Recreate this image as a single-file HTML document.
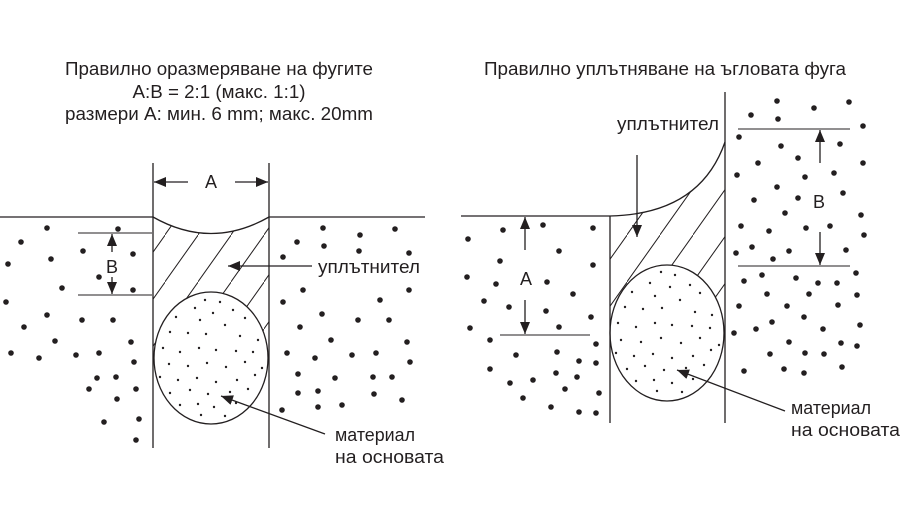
<!DOCTYPE html>
<html><head><meta charset="utf-8"><style>html,body{margin:0;padding:0;background:#fff}svg{display:block}text{font-family:"Liberation Sans","DejaVu Sans",sans-serif;fill:#231f20}</style></head>
<body>
<svg width="904" height="516" viewBox="0 0 904 516" xmlns="http://www.w3.org/2000/svg">
<defs>
<pattern id="h" patternUnits="userSpaceOnUse" width="33" height="47"><line x1="-3" y1="51" x2="36" y2="-4" stroke="#231f20" stroke-width="1"/></pattern>
<marker id="ar" viewBox="0 0 12 10" refX="12" refY="5" markerWidth="12" markerHeight="10" markerUnits="userSpaceOnUse" orient="auto"><path d="M0,0 L12,5 L0,10 z" fill="#231f20"/></marker>
</defs>
<g font-size="18" text-anchor="middle">
<text x="219" y="75" textLength="308" lengthAdjust="spacingAndGlyphs">Правилно оразмеряване на фугите</text>
<text x="219" y="98" textLength="173" lengthAdjust="spacingAndGlyphs">A:B = 2:1 (макс. 1:1)</text>
<text x="219" y="120" textLength="308" lengthAdjust="spacingAndGlyphs">размери A: мин. 6 mm; макс. 20mm</text>
<text x="665" y="75" textLength="362" lengthAdjust="spacingAndGlyphs">Правилно уплътняване на ъгловата фуга</text>
</g>
<g stroke="#231f20" fill="none" stroke-width="1.3">
<path d="M153,217 Q211,250 269,217 L269,358 L153,358 Z" fill="url(#h)" stroke="none"/>
<ellipse cx="211" cy="358" rx="57" ry="66" fill="#fff"/>
<path d="M153,217 Q211,250 269,217"/>
<line x1="0" y1="217" x2="153" y2="217"/><line x1="269" y1="217" x2="425" y2="217"/>
<line x1="153" y1="163" x2="153" y2="448"/><line x1="269" y1="163" x2="269" y2="448"/>
<line x1="188" y1="182" x2="154" y2="182" marker-end="url(#ar)"/>
<line x1="235" y1="182" x2="268" y2="182" marker-end="url(#ar)"/>
<line x1="78" y1="233" x2="152" y2="233" stroke-width="1"/><line x1="78" y1="295" x2="152" y2="295" stroke-width="1"/>
<line x1="112" y1="252" x2="112" y2="234" marker-end="url(#ar)"/>
<line x1="112" y1="277" x2="112" y2="294" marker-end="url(#ar)"/>
<line x1="312" y1="266" x2="228" y2="266" marker-end="url(#ar)"/>
<line x1="325" y1="434" x2="221" y2="396" marker-end="url(#ar)"/>
<path d="M610,216 Q700,214 725,142 L725,333 L610,333 Z" fill="url(#h)" stroke="none"/>
<ellipse cx="667" cy="333" rx="57" ry="68" fill="#fff"/>
<path d="M461,216 L610,216 Q700,214 725,142"/>
<line x1="610" y1="216" x2="610" y2="423"/><line x1="725" y1="92" x2="725" y2="423"/>
<line x1="637" y1="155" x2="637" y2="237" marker-end="url(#ar)"/>
<line x1="525" y1="250" x2="525" y2="217" marker-end="url(#ar)"/>
<line x1="525" y1="300" x2="525" y2="334" marker-end="url(#ar)"/>
<line x1="500" y1="335" x2="590" y2="335" stroke-width="1"/>
<line x1="738" y1="129" x2="850" y2="129" stroke-width="1"/><line x1="738" y1="266" x2="850" y2="266" stroke-width="1"/>
<line x1="820" y1="163" x2="820" y2="130" marker-end="url(#ar)"/>
<line x1="820" y1="232" x2="820" y2="265" marker-end="url(#ar)"/>
<line x1="785" y1="411" x2="677" y2="370" marker-end="url(#ar)"/>
</g>
<g font-size="18">
<text x="211" y="188" text-anchor="middle">A</text>
<text x="112" y="273" text-anchor="middle">B</text>
<text x="318" y="273" textLength="102" lengthAdjust="spacingAndGlyphs">уплътнител</text>
<text x="335" y="441" textLength="80" lengthAdjust="spacingAndGlyphs">материал</text>
<text x="335" y="463" textLength="109" lengthAdjust="spacingAndGlyphs">на основата</text>
<text x="526" y="285" text-anchor="middle">A</text>
<text x="819" y="208" text-anchor="middle">B</text>
<text x="617" y="130" textLength="102" lengthAdjust="spacingAndGlyphs">уплътнител</text>
<text x="791" y="414" textLength="80" lengthAdjust="spacingAndGlyphs">материал</text>
<text x="791" y="436" textLength="109" lengthAdjust="spacingAndGlyphs">на основата</text>
</g>
<g fill="#231f20">
<circle cx="47" cy="228" r="2.8"/><circle cx="118" cy="229" r="2.8"/><circle cx="21" cy="242" r="2.8"/><circle cx="83" cy="251" r="2.8"/><circle cx="133" cy="254" r="2.8"/><circle cx="51" cy="259" r="2.8"/><circle cx="8" cy="264" r="2.8"/><circle cx="99" cy="277" r="2.8"/><circle cx="62" cy="288" r="2.8"/><circle cx="133" cy="290" r="2.8"/><circle cx="6" cy="302" r="2.8"/><circle cx="47" cy="315" r="2.8"/><circle cx="82" cy="320" r="2.8"/><circle cx="113" cy="320" r="2.8"/><circle cx="24" cy="327" r="2.8"/><circle cx="55" cy="341" r="2.8"/><circle cx="131" cy="342" r="2.8"/><circle cx="11" cy="353" r="2.8"/><circle cx="39" cy="358" r="2.8"/><circle cx="76" cy="355" r="2.8"/><circle cx="99" cy="353" r="2.8"/><circle cx="134" cy="362" r="2.8"/><circle cx="97" cy="378" r="2.8"/><circle cx="116" cy="377" r="2.8"/><circle cx="89" cy="389" r="2.8"/><circle cx="136" cy="389" r="2.8"/><circle cx="117" cy="399" r="2.8"/><circle cx="104" cy="422" r="2.8"/><circle cx="139" cy="419" r="2.8"/><circle cx="136" cy="440" r="2.8"/>
<circle cx="323" cy="228" r="2.8"/><circle cx="360" cy="235" r="2.8"/><circle cx="395" cy="229" r="2.8"/><circle cx="297" cy="242" r="2.8"/><circle cx="324" cy="246" r="2.8"/><circle cx="359" cy="251" r="2.8"/><circle cx="409" cy="253" r="2.8"/><circle cx="283" cy="257" r="2.8"/><circle cx="303" cy="290" r="2.8"/><circle cx="409" cy="290" r="2.8"/><circle cx="380" cy="300" r="2.8"/><circle cx="283" cy="302" r="2.8"/><circle cx="322" cy="314" r="2.8"/><circle cx="358" cy="320" r="2.8"/><circle cx="389" cy="320" r="2.8"/><circle cx="300" cy="327" r="2.8"/><circle cx="331" cy="340" r="2.8"/><circle cx="407" cy="342" r="2.8"/><circle cx="287" cy="353" r="2.8"/><circle cx="315" cy="358" r="2.8"/><circle cx="352" cy="355" r="2.8"/><circle cx="376" cy="353" r="2.8"/><circle cx="410" cy="362" r="2.8"/><circle cx="298" cy="374" r="2.8"/><circle cx="335" cy="378" r="2.8"/><circle cx="373" cy="377" r="2.8"/><circle cx="392" cy="377" r="2.8"/><circle cx="298" cy="393" r="2.8"/><circle cx="318" cy="391" r="2.8"/><circle cx="374" cy="394" r="2.8"/><circle cx="402" cy="400" r="2.8"/><circle cx="282" cy="410" r="2.8"/><circle cx="318" cy="407" r="2.8"/><circle cx="342" cy="405" r="2.8"/>
<circle cx="777" cy="101" r="2.8"/><circle cx="814" cy="108" r="2.8"/><circle cx="849" cy="102" r="2.8"/><circle cx="751" cy="115" r="2.8"/><circle cx="778" cy="119" r="2.8"/><circle cx="863" cy="126" r="2.8"/><circle cx="739" cy="137" r="2.8"/><circle cx="781" cy="146" r="2.8"/><circle cx="840" cy="144" r="2.8"/><circle cx="758" cy="163" r="2.8"/><circle cx="798" cy="158" r="2.8"/><circle cx="863" cy="163" r="2.8"/><circle cx="737" cy="175" r="2.8"/><circle cx="805" cy="177" r="2.8"/><circle cx="834" cy="173" r="2.8"/><circle cx="777" cy="187" r="2.8"/><circle cx="754" cy="200" r="2.8"/><circle cx="798" cy="198" r="2.8"/><circle cx="843" cy="193" r="2.8"/><circle cx="785" cy="213" r="2.8"/><circle cx="861" cy="215" r="2.8"/><circle cx="741" cy="226" r="2.8"/><circle cx="769" cy="231" r="2.8"/><circle cx="806" cy="228" r="2.8"/><circle cx="830" cy="226" r="2.8"/><circle cx="864" cy="235" r="2.8"/><circle cx="752" cy="247" r="2.8"/><circle cx="789" cy="251" r="2.8"/><circle cx="736" cy="253" r="2.8"/><circle cx="773" cy="259" r="2.8"/><circle cx="846" cy="250" r="2.8"/>
<circle cx="744" cy="281" r="2.8"/><circle cx="762" cy="275" r="2.8"/><circle cx="796" cy="278" r="2.8"/><circle cx="818" cy="283" r="2.8"/><circle cx="837" cy="283" r="2.8"/><circle cx="856" cy="273" r="2.8"/><circle cx="767" cy="294" r="2.8"/><circle cx="809" cy="294" r="2.8"/><circle cx="857" cy="295" r="2.8"/><circle cx="739" cy="306" r="2.8"/><circle cx="787" cy="306" r="2.8"/><circle cx="838" cy="305" r="2.8"/><circle cx="772" cy="322" r="2.8"/><circle cx="804" cy="317" r="2.8"/><circle cx="860" cy="325" r="2.8"/><circle cx="734" cy="333" r="2.8"/><circle cx="756" cy="329" r="2.8"/><circle cx="823" cy="329" r="2.8"/><circle cx="789" cy="342" r="2.8"/><circle cx="841" cy="343" r="2.8"/><circle cx="857" cy="346" r="2.8"/><circle cx="770" cy="354" r="2.8"/><circle cx="805" cy="353" r="2.8"/><circle cx="824" cy="354" r="2.8"/><circle cx="744" cy="371" r="2.8"/><circle cx="784" cy="369" r="2.8"/><circle cx="804" cy="373" r="2.8"/><circle cx="842" cy="367" r="2.8"/>
<circle cx="468" cy="239" r="2.8"/><circle cx="503" cy="230" r="2.8"/><circle cx="543" cy="225" r="2.8"/><circle cx="593" cy="228" r="2.8"/><circle cx="559" cy="251" r="2.8"/><circle cx="500" cy="261" r="2.8"/><circle cx="593" cy="265" r="2.8"/><circle cx="467" cy="277" r="2.8"/><circle cx="496" cy="284" r="2.8"/><circle cx="547" cy="282" r="2.8"/><circle cx="573" cy="294" r="2.8"/><circle cx="484" cy="301" r="2.8"/><circle cx="509" cy="307" r="2.8"/><circle cx="546" cy="311" r="2.8"/><circle cx="591" cy="317" r="2.8"/><circle cx="470" cy="328" r="2.8"/><circle cx="559" cy="327" r="2.8"/><circle cx="490" cy="340" r="2.8"/><circle cx="596" cy="344" r="2.8"/><circle cx="516" cy="355" r="2.8"/><circle cx="557" cy="352" r="2.8"/><circle cx="579" cy="361" r="2.8"/><circle cx="596" cy="363" r="2.8"/><circle cx="490" cy="369" r="2.8"/><circle cx="556" cy="373" r="2.8"/><circle cx="577" cy="377" r="2.8"/><circle cx="510" cy="383" r="2.8"/><circle cx="533" cy="380" r="2.8"/><circle cx="565" cy="389" r="2.8"/><circle cx="599" cy="393" r="2.8"/><circle cx="523" cy="398" r="2.8"/><circle cx="551" cy="407" r="2.8"/><circle cx="579" cy="412" r="2.8"/><circle cx="596" cy="413" r="2.8"/>
</g>
<g fill="#231f20">
<circle cx="205" cy="300" r="1.2"/><circle cx="220" cy="302" r="1.2"/><circle cx="195" cy="308" r="1.2"/><circle cx="213" cy="313" r="1.2"/><circle cx="233" cy="310" r="1.2"/><circle cx="176" cy="317" r="1.2"/><circle cx="200" cy="320" r="1.2"/><circle cx="225" cy="325" r="1.2"/><circle cx="245" cy="318" r="1.2"/><circle cx="170" cy="332" r="1.2"/><circle cx="188" cy="333" r="1.2"/><circle cx="206" cy="334" r="1.2"/><circle cx="240" cy="336" r="1.2"/><circle cx="258" cy="340" r="1.2"/><circle cx="163" cy="348" r="1.2"/><circle cx="180" cy="352" r="1.2"/><circle cx="199" cy="348" r="1.2"/><circle cx="216" cy="350" r="1.2"/><circle cx="236" cy="351" r="1.2"/><circle cx="253" cy="352" r="1.2"/><circle cx="169" cy="364" r="1.2"/><circle cx="188" cy="366" r="1.2"/><circle cx="207" cy="363" r="1.2"/><circle cx="226" cy="367" r="1.2"/><circle cx="245" cy="362" r="1.2"/><circle cx="262" cy="368" r="1.2"/><circle cx="160" cy="377" r="1.2"/><circle cx="178" cy="380" r="1.2"/><circle cx="197" cy="378" r="1.2"/><circle cx="216" cy="382" r="1.2"/><circle cx="237" cy="380" r="1.2"/><circle cx="255" cy="375" r="1.2"/><circle cx="170" cy="393" r="1.2"/><circle cx="190" cy="390" r="1.2"/><circle cx="208" cy="394" r="1.2"/><circle cx="230" cy="392" r="1.2"/><circle cx="248" cy="389" r="1.2"/><circle cx="180" cy="405" r="1.2"/><circle cx="198" cy="404" r="1.2"/><circle cx="214" cy="407" r="1.2"/><circle cx="236" cy="403" r="1.2"/><circle cx="201" cy="415" r="1.2"/><circle cx="225" cy="416" r="1.2"/>
<circle cx="661" cy="272" r="1.2"/><circle cx="675" cy="275" r="1.2"/><circle cx="650" cy="283" r="1.2"/><circle cx="670" cy="287" r="1.2"/><circle cx="690" cy="285" r="1.2"/><circle cx="632" cy="292" r="1.2"/><circle cx="655" cy="296" r="1.2"/><circle cx="680" cy="300" r="1.2"/><circle cx="700" cy="293" r="1.2"/><circle cx="625" cy="307" r="1.2"/><circle cx="643" cy="309" r="1.2"/><circle cx="662" cy="308" r="1.2"/><circle cx="695" cy="312" r="1.2"/><circle cx="712" cy="315" r="1.2"/><circle cx="618" cy="323" r="1.2"/><circle cx="636" cy="327" r="1.2"/><circle cx="655" cy="323" r="1.2"/><circle cx="672" cy="325" r="1.2"/><circle cx="692" cy="326" r="1.2"/><circle cx="710" cy="328" r="1.2"/><circle cx="621" cy="340" r="1.2"/><circle cx="641" cy="342" r="1.2"/><circle cx="661" cy="338" r="1.2"/><circle cx="681" cy="343" r="1.2"/><circle cx="700" cy="338" r="1.2"/><circle cx="719" cy="345" r="1.2"/><circle cx="616" cy="353" r="1.2"/><circle cx="634" cy="356" r="1.2"/><circle cx="653" cy="354" r="1.2"/><circle cx="672" cy="358" r="1.2"/><circle cx="693" cy="356" r="1.2"/><circle cx="711" cy="350" r="1.2"/><circle cx="627" cy="369" r="1.2"/><circle cx="645" cy="366" r="1.2"/><circle cx="664" cy="370" r="1.2"/><circle cx="686" cy="368" r="1.2"/><circle cx="704" cy="365" r="1.2"/><circle cx="636" cy="381" r="1.2"/><circle cx="654" cy="380" r="1.2"/><circle cx="672" cy="383" r="1.2"/><circle cx="693" cy="379" r="1.2"/><circle cx="657" cy="391" r="1.2"/><circle cx="682" cy="392" r="1.2"/>
</g>
</svg>
</body></html>
